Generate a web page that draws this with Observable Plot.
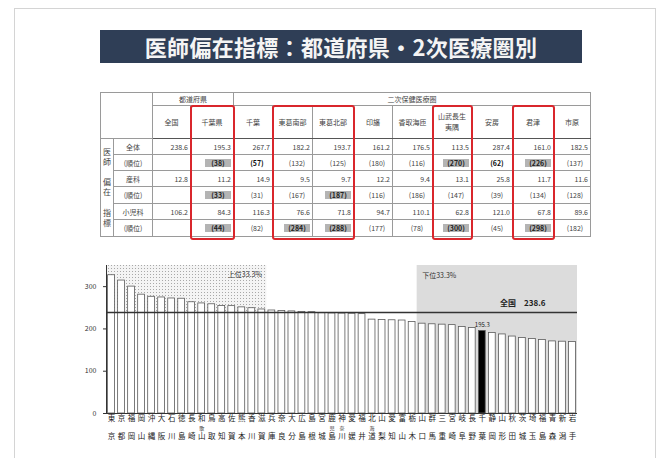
<!DOCTYPE html>
<html>
<head>
<meta charset="utf-8">
<script src="https://cdn.jsdelivr.net/npm/d3@7"></script>
<script src="https://cdn.jsdelivr.net/npm/@observablehq/plot@0.6"></script>
<style>
  html, body { margin: 0; padding: 0; background: #fff; }
  body { width: 668px; height: 458px; position: relative; overflow: hidden;
         font-family: "Noto Sans CJK JP", "Noto Sans", sans-serif; color: #333; }
  #frame { position: absolute; left: 14px; top: 8px; width: 640px; height: 470px; border: 1px solid #d4d4d4; }
  #banner { position: absolute; left: 100px; top: 30px; width: 482px; height: 33px; background: #2f3e56;
            color: #f4f4f4; font-weight: bold; font-size: 22px; line-height: 33px; text-align: center; letter-spacing: 0.3px; }
  #tbl { position: absolute; left: 100px; top: 92px; width: 490px; border-collapse: collapse; table-layout: fixed;
         font-size: 7px; line-height: 8px; color: #444; }
  #tbl td { border: 1px solid #9a9a9a; padding: 0 2px; text-align: right; overflow: visible; white-space: nowrap; }
  #tbl td.hd { text-align: center; line-height: 11px; }
  #tbl td.rl { text-align: center; }
  #tbl tr.thick td { border-top: 1.6px solid #333; }
  #tbl tr.h2 td { border-bottom: 1.4px solid #555; }
  .rk { display: inline-block; width: 26px; text-align: center; }
  .rk.g { background: #b4b4b4; font-weight: bold; color: #222; }
  .rk.b { font-weight: bold; color: #111; }
  .redbox { position: absolute; border: 2.5px solid #d9262c; border-radius: 3px; box-sizing: border-box; }
  #chart { position: absolute; left: 60px; top: 250px; }
  .vl { display: flex; flex-direction: column; justify-content: space-around; align-items: center; height: 92px; font-size: 8px; line-height: 10px; }
</style>
</head>
<body>
<div id="frame"></div>
<div id="banner">医師偏在指標：都道府県・2次医療圏別</div>
<div id="tablewrap"></div>
<div id="chart"></div>
<script>
// ---------- table data ----------
const areaNames = ["全国","千葉県","千葉","東葛南部","東葛北部","印旛","香取海匝","山武長生夷隅","安房","君津","市原"];
const rowLabels = ["全体","(順位)","産科","(順位)","小児科","(順位)"];
const overallValues = ["238.6","195.3","267.7","182.2","193.7","161.2","176.5","113.5","287.4","161.0","182.5"];
const overallRanks  = ["","(38)","(57)","(132)","(125)","(180)","(116)","(270)","(62)","(226)","(137)"];
const obstetricValues = ["12.8","11.2","14.9","9.5","9.7","12.2","9.4","13.1","25.8","11.7","11.6"];
const obstetricRanks  = ["","(33)","(31)","(167)","(187)","(116)","(186)","(147)","(39)","(134)","(128)"];
const pediatricValues = ["106.2","84.3","116.3","76.6","71.8","94.7","110.1","62.8","121.0","67.8","89.6"];
const pediatricRanks  = ["","(44)","(82)","(284)","(288)","(177)","(78)","(300)","(45)","(298)","(182)"];
const grayRanks = [["(38)","(270)","(226)"],["(33)","(187)"],["(44)","(284)","(288)","(300)","(298)"]];
const boldRanks = [["(57)","(62)"],[],[]];
const redGroups = [["千葉県"],["東葛南部","東葛北部"],["山武長生夷隅"],["君津"]];
const colWidths = [13,39,38,43,39,40,41,39,40,39,41,41,37];

// ---------- chart data ----------
const prefectures = ["東京","京都","福岡","岡山","沖縄","大阪","石川","徳島","長崎","和歌山",
  "鳥取","高知","佐賀","熊本","香川","滋賀","兵庫","奈良","大分","広島",
  "島根","宮城","鹿児島","神奈川","愛媛","福井","北海道","山梨","愛知","富山",
  "栃木","山口","群馬","三重","宮崎","岐阜","長野","千葉","静岡","山形",
  "秋田","茨城","埼玉","福島","青森","新潟","岩手"];
const indexValues = [327.0,314.4,300.1,281.0,276.0,274.4,272.0,271.4,263.1,260.3,
  258.3,254.3,253.9,251.0,249.0,246.0,243.6,242.3,241.5,240.3,
  239.6,237.2,236.7,236.3,235.9,235.0,222.0,221.2,220.5,219.9,
  216.4,212.4,211.0,210.1,209.0,204.6,202.0,195.3,190.4,187.0,
  182.0,178.5,176.4,173.6,170.5,169.8,169.3];
const nationalValue = 238.6;
const highlightPrefecture = "千葉";
const yTicks = [0,100,200,300];
const upperCount = 16;   // 上位33.3%
const lowerCount = 16;   // 下位33.3%
const upperLabel = "上位33.3%";
const lowerLabel = "下位33.3%";
const nationalLabel = "全国　" + nationalValue.toFixed(1);

// ---------- build table ----------
const tbl = document.createElement("table");
tbl.id = "tbl";
const cg = document.createElement("colgroup");
colWidths.forEach(w => { const c = document.createElement("col"); c.style.width = w + "px"; cg.appendChild(c); });
tbl.appendChild(cg);
function row(cls, h) { const r = tbl.insertRow(); if (cls) r.className = cls; r.style.height = h + "px"; return r; }
function cell(r, html, cls, attrs) { const c = r.insertCell(); c.innerHTML = html; if (cls) c.className = cls; if (attrs) for (const k in attrs) c.setAttribute(k, attrs[k]); return c; }
const h1 = row("", 13);
cell(h1, "", "hd", {rowspan: 2, colspan: 2});
cell(h1, "都道府県", "hd", {colspan: 2});
cell(h1, "二次保健医療圏", "hd", {colspan: areaNames.length - 2});
const h2 = row("h2", 33);
const headCells = {};
areaNames.forEach(n => {
  const label = n.length > 4 ? n.slice(0, 4) + "<br>" + n.slice(4) : n;
  headCells[n] = cell(h2, label, "hd");
});
const series = [overallValues, overallRanks, obstetricValues, obstetricRanks, pediatricValues, pediatricRanks];
const heights = [16,16,16,17,16,17];
series.forEach((vals, i) => {
  const r = row(i === 4 ? "thick" : "", heights[i]);
  if (i === 0) cell(r, '<div class="vl"><div>医<br>師</div><div>偏<br>在</div><div>指<br>標</div></div>', "hd", {rowspan: 6});
  cell(r, rowLabels[i], "rl");
  vals.forEach(v => {
    if (i % 2 === 1 && v) {
      const g = grayRanks[(i - 1) / 2].includes(v), b = boldRanks[(i - 1) / 2].includes(v);
      cell(r, `<span class="rk${g ? " g" : b ? " b" : ""}">${v}</span>`);
    } else cell(r, v);
  });
});
document.getElementById("tablewrap").appendChild(tbl);
const tRect = tbl.getBoundingClientRect();
redGroups.forEach(g => {
  const a = headCells[g[0]].getBoundingClientRect(), b = headCells[g[g.length - 1]].getBoundingClientRect();
  const d = document.createElement("div");
  d.className = "redbox";
  d.style.left = (a.left - 1) + "px";
  d.style.top = (a.top - 1) + "px";
  d.style.width = (b.right - a.left + 2) + "px";
  d.style.height = (tRect.bottom - a.top + 4) + "px";
  document.body.appendChild(d);
});

// ---------- chart ----------
const data = prefectures.map((name, i) => ({name, rank: i + 1, value: indexValues[i]}));
const n = data.length;
const yMax = 350;
const hl = data.filter(d => d.name === highlightPrefecture);
const threeChar = data.filter(d => d.name.length === 3);

const plot = Plot.plot({
  width: 540, height: 205,
  marginLeft: 46, marginRight: 23, marginTop: 15, marginBottom: 42,
  x: {domain: [0.5, n + 0.5], axis: null},
  y: {domain: [0, yMax], axis: null},
  style: {fontFamily: "'Noto Sans CJK JP', sans-serif", fontSize: "7px", color: "#333", background: "transparent"},
  marks: [
    Plot.rect([{}], {x1: 0.5, x2: upperCount + 0.5, y1: nationalValue, y2: yMax, fill: "url(#dots)"}),
    Plot.rect([{}], {x1: n - lowerCount + 0.5, x2: n + 0.5, y1: 0, y2: yMax, fill: "#dcdcdc"}),
    Plot.rectY(data, {x1: d => d.rank - 0.34, x2: d => d.rank + 0.34, y: "value",
      fill: d => d.name === highlightPrefecture ? "#000" : "#fff", stroke: "#5a5a5a", strokeWidth: 0.8}),
    Plot.ruleY([nationalValue], {x1: 0.5, x2: n + 0.5, stroke: "#333", strokeWidth: 1.5}),
    Plot.ruleY([0], {x1: 0.5, x2: n + 0.5, stroke: "#333", strokeWidth: 1}),
    Plot.ruleX([0.5], {y1: 0, y2: yMax, stroke: "#333", strokeWidth: 1}),
    Plot.axisY({anchor: "left", ticks: yTicks, tickSize: 3, tickPadding: 7, fontSize: 7, stroke: "#333", label: null}),
    Plot.text([upperLabel], {x: upperCount + 0.5, frameAnchor: "top", dy: 7, dx: -5, textAnchor: "end", fontSize: 7, fill: "#333"}),
    Plot.text([lowerLabel], {x: n - lowerCount + 0.5, frameAnchor: "top", dy: 8, dx: 5, textAnchor: "start", fontSize: 7, fill: "#333"}),
    Plot.text([nationalLabel], {y: nationalValue, frameAnchor: "right", dx: -32, dy: -9, textAnchor: "end", fontSize: 8, fontWeight: "bold", fill: "#222"}),
    Plot.text(hl, {x: "rank", y: "value", text: d => d.value.toFixed(1), dy: -6, fontSize: 6, fill: "#222"}),
    Plot.text(data, {x: "rank", text: d => d.name[0], frameAnchor: "bottom", dy: 7, fontSize: 7.5, fill: "#222"}),
    Plot.text(threeChar, {x: "rank", text: d => d.name[1], frameAnchor: "bottom", dy: 16, fontSize: 5, fill: "#222"}),
    Plot.text(data, {x: "rank", text: d => d.name[d.name.length - 1], frameAnchor: "bottom", dy: 25, fontSize: 7.5, fill: "#222"})
  ]
});
plot.insertAdjacentHTML("afterbegin",
  '<defs><pattern id="dots" width="3" height="3" patternUnits="userSpaceOnUse">' +
  '<rect width="3" height="3" fill="#f4f4f4"/><rect width="1" height="1" fill="#a8a8a8"/></pattern></defs>');
document.getElementById("chart").appendChild(plot);
</script>
</body>
</html>
